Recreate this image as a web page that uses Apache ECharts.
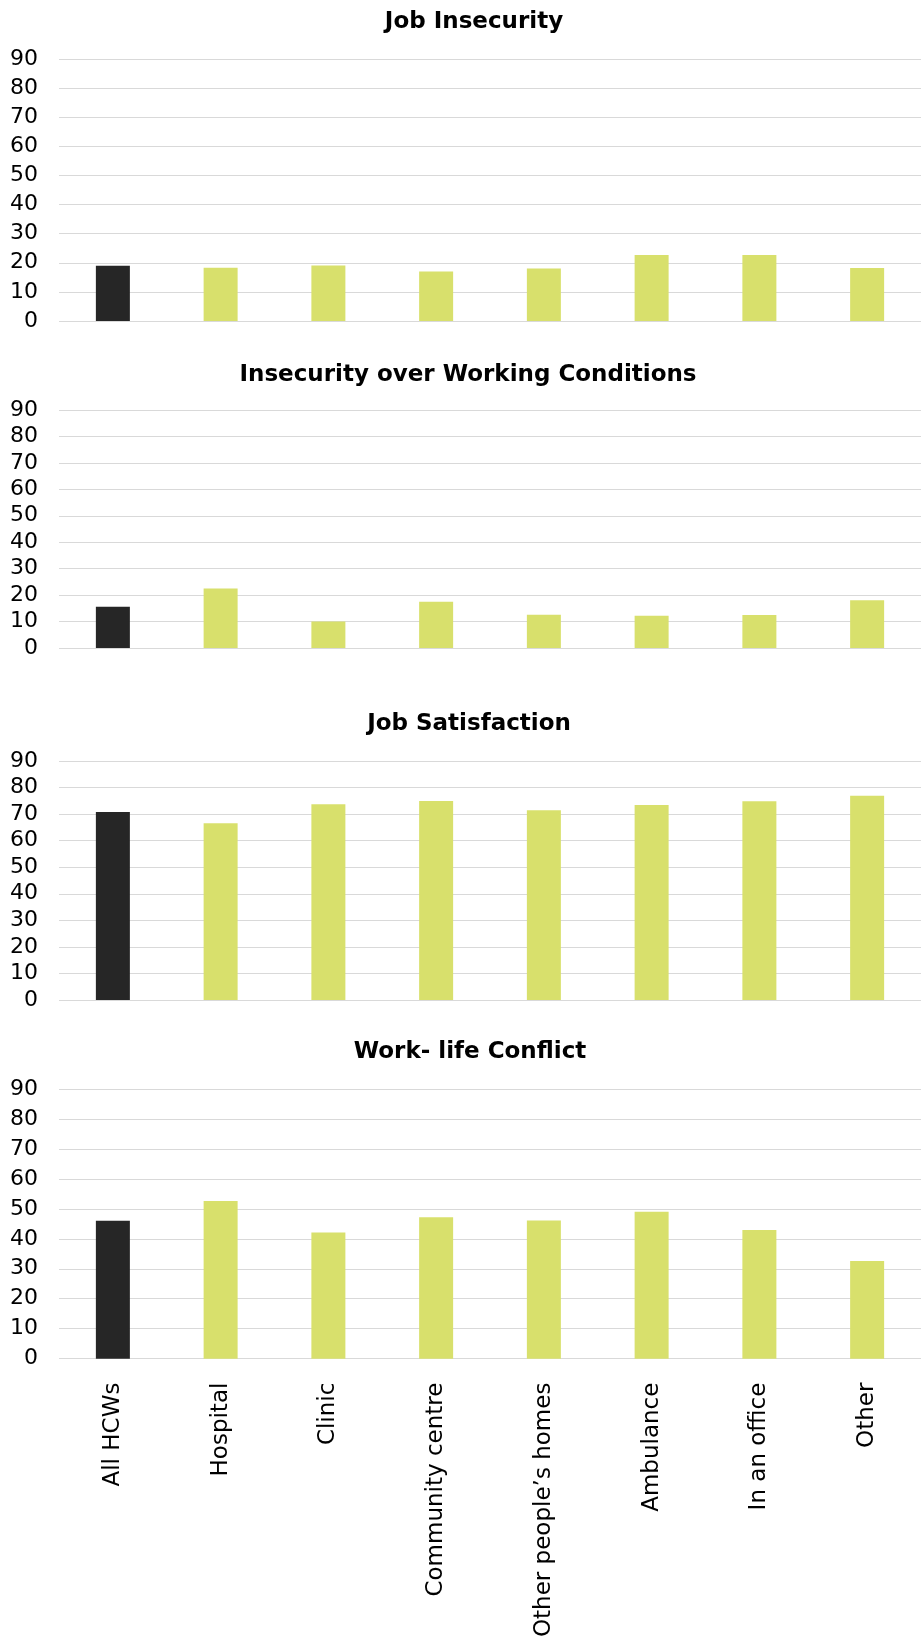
<!DOCTYPE html>
<html>
<head>
<meta charset="utf-8">
<script src="https://cdn.jsdelivr.net/npm/echarts@6/dist/echarts.min.js"></script>
<style>
html,body{margin:0;padding:0;background:#fff;}
#chart{width:921px;height:1640px;}
</style>
</head>
<body>
<div id="chart"></div>
<script>
const categories = ["All HCWs", "Hospital", "Clinic", "Community centre", "Other people’s homes", "Ambulance", "In an office", "Other"];
const titles = ["Job Insecurity", "Insecurity over Working Conditions", "Job Satisfaction", "Work- life Conflict"];
const jobInsecurity = [19.0, 18.3, 19.1, 17.0, 18.0, 22.7, 22.7, 18.2];
const workingConditions = [15.6, 22.5, 10.0, 17.5, 12.6, 12.2, 12.5, 18.1];
const jobSatisfaction = [70.8, 66.6, 73.7, 74.9, 71.5, 73.4, 74.8, 76.9];
const workLifeConflict = [46.0, 52.6, 42.1, 47.2, 46.1, 49.0, 42.9, 32.6];
const yTicks = [0, 10, 20, 30, 40, 50, 60, 70, 80, 90];

const seriesValues = [jobInsecurity, workingConditions, jobSatisfaction, workLifeConflict];

// layout (pixels)
const gridTops = [59, 410, 761, 1089];
const gridHeights = [262, 238, 239, 270];
const titleTops = [11, 364, 713, 1041];
const titleCenters = [474, 468, 469, 470];
const DARK = '#262626';
const GREEN = '#d8e06c';

const chart = echarts.init(document.getElementById('chart'), null, {renderer: 'canvas'});

const option = {
  backgroundColor: '#ffffff',
  animation: false,
  title: titles.map((t, i) => ({
    text: t,
    left: titleCenters[i],
    textAlign: 'center',
    top: titleTops[i],
    padding: 0,
    textStyle: {fontFamily: 'DejaVu Sans', fontWeight: 'bold', fontSize: 23, color: '#000'}
  })),
  grid: gridTops.map((top, i) => ({
    left: 59, width: 870, top: top, height: gridHeights[i], containLabel: false
  })),
  xAxis: seriesValues.map((v, i) => ({
    type: 'category',
    gridIndex: i,
    data: categories,
    axisLine: {show: false},
    axisTick: {show: false},
    axisLabel: {
      show: i === 3,
      rotate: 90,
      margin: 24,
      interval: 0,
      fontFamily: 'DejaVu Sans',
      fontSize: 23,
      color: '#000'
    }
  })),
  yAxis: seriesValues.map((v, i) => ({
    type: 'value',
    gridIndex: i,
    min: yTicks[0],
    max: yTicks[yTicks.length - 1],
    interval: yTicks[1] - yTicks[0],
    axisLine: {show: false},
    axisTick: {show: false},
    axisLabel: {fontFamily: 'DejaVu Sans', fontSize: 22, color: '#000', margin: 21},
    splitLine: {show: true, lineStyle: {color: '#d9d9d9', width: 1}}
  })),
  series: seriesValues.map((vals, i) => ({
    type: 'bar',
    xAxisIndex: i,
    yAxisIndex: i,
    data: vals,
    barWidth: 34,
    itemStyle: {
      color: function (p) { return p.dataIndex === 0 ? DARK : GREEN; }
    }
  }))
};
chart.setOption(option);
</script>
</body>
</html>
